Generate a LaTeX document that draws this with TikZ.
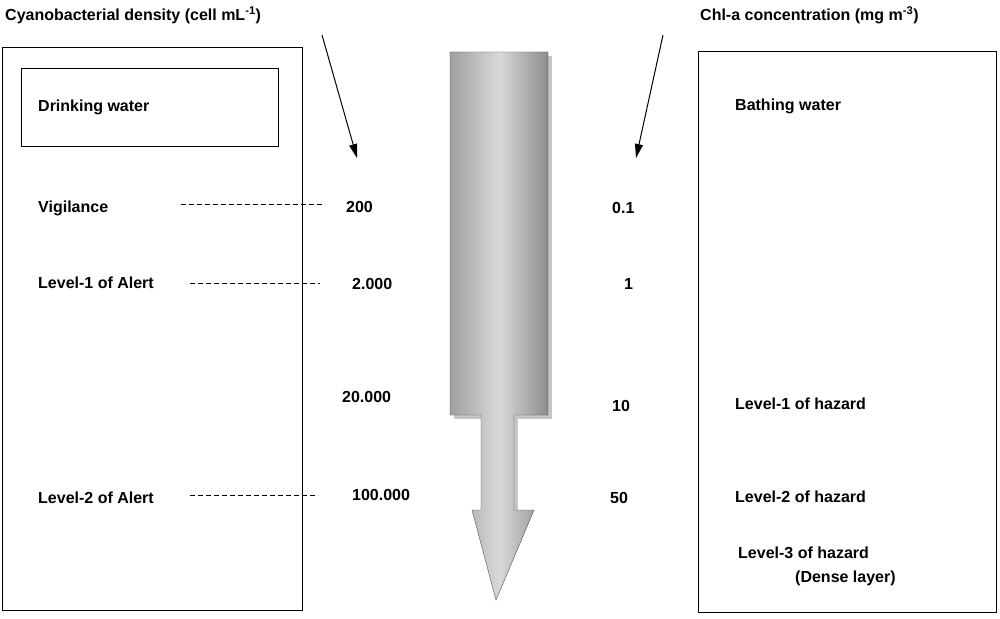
\documentclass[tikz,border=0pt]{standalone}
\usepackage{fontspec}
\setmainfont{Liberation Sans}
\usetikzlibrary{arrows.meta}
\begin{document}
\begin{tikzpicture}[x=1pt,y=-1pt,
  lbl/.style={font=\bfseries\fontsize{16}{18}\selectfont,anchor=west,inner sep=0},
  dashline/.style={dash pattern=on 5pt off 3pt,line width=0.8pt},
  box/.style={draw,line width=1pt}]
\useasboundingbox (0,0) rectangle (1000,618);
\draw[box] (2,48) rectangle (302,610);
\draw[box] (21,68) rectangle (278,146);
\draw[box] (698,52) rectangle (996,612);
% arrow
\fill[gray!45] (454,56) rectangle (552,419);
\fill[gray!45] (485,419) rectangle (518,514);
\shade[left color=gray!75,right color=gray!90,middle color=gray!30,draw=gray!60!black] (450,52) -- (548,52) -- (548,415) -- (514,415) -- (514,510) -- (534,510) -- (496,600) -- (472,510) -- (481,510) -- (481,415) -- (450,415) -- cycle;
\node[lbl] (dw) at (38,107) {Drinking water};
\node[lbl] (bw) at (735,106) {Bathing water};
\node[lbl] (t1) at (5,15) {Cyanobacterial density (cell mL\textsuperscript{-1})};
\node[lbl] (t2) at (700,15) {Chl-a concentration (mg m\textsuperscript{-3})};
\coordinate (s1) at (322,35); \coordinate (e1) at (357,158);
\coordinate (s2) at (663,35); \coordinate (e2) at (636,158);
\draw[-{Triangle[length=14pt,width=8pt]},line width=1pt] (s1) -- (e1);
\draw[-{Triangle[length=14pt,width=8pt]},line width=1pt] (s2) -- (e2);
\node[lbl] (v) at (38,208) {Vigilance};
\node[lbl] (a1) at (38,283) {Level-1 of Alert};
\node[lbl] (a2) at (38,498) {Level-2 of Alert};
\coordinate (d1a) at (181,204); \coordinate (d1b) at (325,204);
\coordinate (d2a) at (190,283); \coordinate (d2b) at (320,283);
\coordinate (d3a) at (190,495); \coordinate (d3b) at (318,495);
\draw[dashline] (d1a) -- (d1b); \draw[dashline] (d2a) -- (d2b); \draw[dashline] (d3a) -- (d3b);
\node[lbl] (n1) at (346,207) {200};
\node[lbl] (n2) at (352,284) {2.000};
\node[lbl] (n3) at (342,397) {20.000};
\node[lbl] (n4) at (352,495) {100.000};
\node[lbl] (c1) at (612,208) {0.1};
\node[lbl] (c2) at (624,284) {1};
\node[lbl] (c3) at (612,406) {10};
\node[lbl] (c4) at (610,498) {50};
\node[lbl] (h1) at (735,404) {Level-1 of hazard};
\node[lbl] (h2) at (735,497) {Level-2 of hazard};
\node[lbl] (h3) at (738,553) {Level-3 of hazard};
\node[lbl] (h3b) at (795,578) {(Dense layer)};
\end{tikzpicture}
\end{document}
